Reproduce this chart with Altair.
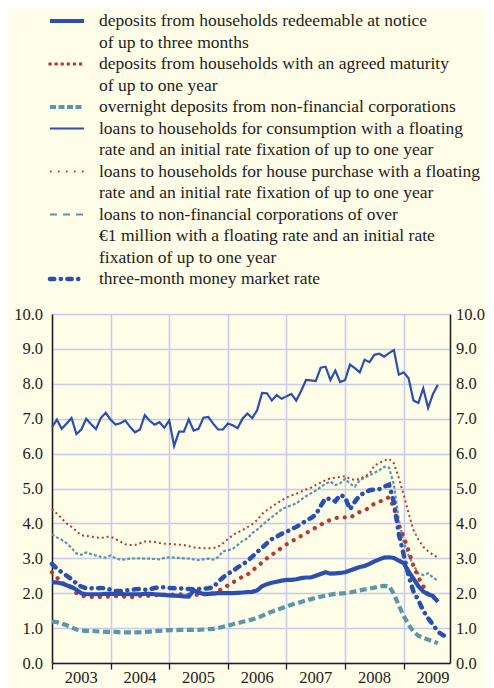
import altair as alt
import pandas as pd

# ---------------- data ----------------
months = [f"{2003 + i // 12}-{i % 12 + 1:02d}" for i in range(82)]

deposits_notice = [
    2.31, 2.31, 2.28, 2.23, 2.18, 2.10, 2.00, 1.97, 1.97, 1.97, 1.97, 1.98,
    1.98, 1.98, 1.98, 1.97, 1.97, 1.97, 1.97, 1.98, 1.98, 1.97, 1.96, 1.95,
    1.94, 1.93, 1.92, 1.91, 1.90, 2.08, 2.02, 1.98, 1.98, 1.99, 2.00, 2.00,
    2.00, 2.00, 2.01, 2.02, 2.03, 2.04, 2.08, 2.20, 2.26, 2.30, 2.33, 2.36,
    2.38, 2.38, 2.40, 2.43, 2.45, 2.45, 2.50, 2.55, 2.60, 2.56, 2.57, 2.58,
    2.60, 2.65, 2.70, 2.75, 2.78, 2.84, 2.91, 2.97, 3.02, 3.03, 3.01, 2.93,
    2.86, 2.62, 2.42, 2.20, 2.05, 1.97, 1.92, 1.75,
]
deposits_agreed = [
    2.60, 2.45, 2.30, 2.24, 2.15, 2.00, 1.93, 1.90, 1.89, 1.89, 1.89, 1.90,
    1.90, 1.92, 1.91, 1.90, 1.88, 1.90, 1.92, 1.92, 1.92, 1.94, 1.95, 1.95,
    1.95, 1.96, 1.97, 1.96, 1.95, 1.95, 1.95, 1.96, 1.98, 2.00, 2.06, 2.14,
    2.22, 2.30, 2.40, 2.47, 2.53, 2.65, 2.76, 2.88, 3.00, 3.10, 3.20, 3.30,
    3.40, 3.48, 3.56, 3.64, 3.72, 3.80, 3.88, 3.96, 4.04, 4.10, 4.15, 4.17,
    4.17, 4.16, 4.25, 4.33, 4.38, 4.45, 4.57, 4.62, 4.68, 4.75, 4.45, 3.95,
    3.62, 3.22, 2.78, 2.45, 2.20, 1.97, 1.90, 1.76,
]
overnight_nfc = [
    1.19, 1.17, 1.13, 1.08, 1.02, 0.96, 0.93, 0.92, 0.92, 0.91, 0.90, 0.89,
    0.89, 0.89, 0.88, 0.88, 0.88, 0.88, 0.88, 0.89, 0.90, 0.91, 0.92, 0.93,
    0.94, 0.94, 0.95, 0.95, 0.95, 0.95, 0.95, 0.96, 0.97, 0.98, 1.00, 1.04,
    1.07, 1.11, 1.14, 1.18, 1.21, 1.25, 1.29, 1.35, 1.42, 1.47, 1.52, 1.57,
    1.62, 1.67, 1.71, 1.75, 1.79, 1.83, 1.87, 1.90, 1.93, 1.96, 1.98, 1.99,
    2.00, 2.02, 2.05, 2.08, 2.11, 2.13, 2.16, 2.19, 2.21, 2.20, 1.98, 1.65,
    1.35, 1.10, 0.90, 0.78, 0.72, 0.67, 0.62, 0.57,
]
loans_consumption = [
    6.76, 6.97, 6.71, 6.86, 7.02, 6.56, 6.69, 7.00, 6.84, 6.70, 7.02, 7.17,
    6.97, 6.83, 6.87, 6.95, 6.76, 6.61, 6.69, 7.10, 6.94, 6.83, 6.90, 6.74,
    6.95, 6.22, 6.63, 6.63, 6.98, 6.66, 6.71, 7.03, 7.05, 6.86, 6.69, 6.69,
    6.86, 6.81, 6.73, 7.00, 7.15, 7.02, 7.24, 7.74, 7.73, 7.52, 7.68, 7.57,
    7.64, 7.71, 7.52, 7.79, 8.11, 8.10, 8.08, 8.46, 8.49, 8.11, 8.38, 8.05,
    8.11, 8.55, 8.45, 8.33, 8.69, 8.62, 8.83, 8.86, 8.78, 8.88, 8.97, 8.26,
    8.33, 8.16, 7.52, 7.45, 7.87, 7.31, 7.71, 7.97,
]
loans_house = [
    4.41, 4.28, 4.14, 4.00, 3.90, 3.78, 3.66, 3.64, 3.62, 3.60, 3.58, 3.61,
    3.62, 3.55, 3.48, 3.40, 3.38, 3.38, 3.43, 3.48, 3.48, 3.47, 3.44, 3.42,
    3.41, 3.40, 3.39, 3.38, 3.35, 3.31, 3.30, 3.29, 3.29, 3.29, 3.33, 3.43,
    3.55, 3.66, 3.74, 3.81, 3.89, 3.98, 4.10, 4.27, 4.38, 4.48, 4.57, 4.66,
    4.74, 4.80, 4.85, 4.91, 4.97, 5.02, 5.10, 5.17, 5.24, 5.29, 5.31, 5.33,
    5.35, 5.28, 5.24, 5.28, 5.35, 5.43, 5.66, 5.73, 5.80, 5.85, 5.72, 5.30,
    4.82, 4.30, 3.81, 3.54, 3.33, 3.20, 3.10, 3.02,
]
loans_nfc = [
    3.69, 3.60, 3.53, 3.43, 3.30, 3.14, 3.10, 3.17, 3.12, 3.08, 3.04, 3.02,
    3.08, 3.00, 2.96, 2.97, 2.99, 3.00, 3.00, 2.99, 2.99, 2.98, 2.97, 3.01,
    3.03, 3.02, 3.01, 3.00, 2.99, 2.97, 2.95, 2.97, 2.99, 2.96, 3.03, 3.20,
    3.23, 3.27, 3.38, 3.50, 3.57, 3.72, 3.82, 3.95, 4.07, 4.18, 4.29, 4.40,
    4.47, 4.52, 4.57, 4.68, 4.78, 4.86, 4.94, 5.04, 5.14, 5.20, 5.10, 5.15,
    5.28, 5.14, 5.05, 5.24, 5.31, 5.38, 5.45, 5.52, 5.62, 5.60, 5.10, 4.10,
    3.45, 3.09, 2.81, 2.57, 2.52, 2.57, 2.45, 2.36,
]
money_market = [
    2.84, 2.70, 2.60, 2.50, 2.40, 2.28, 2.19, 2.14, 2.14, 2.14, 2.15, 2.14,
    2.10, 2.06, 2.06, 2.08, 2.09, 2.11, 2.12, 2.10, 2.11, 2.15, 2.17, 2.17,
    2.15, 2.14, 2.14, 2.13, 2.12, 2.11, 2.12, 2.13, 2.14, 2.17, 2.32, 2.45,
    2.56, 2.63, 2.74, 2.82, 2.92, 3.05, 3.18, 3.30, 3.43, 3.55, 3.62, 3.70,
    3.76, 3.83, 3.90, 3.98, 4.08, 4.15, 4.25, 4.50, 4.72, 4.70, 4.63, 4.82,
    4.75, 4.40, 4.62, 4.80, 4.88, 4.95, 4.97, 4.98, 5.05, 5.11, 4.60, 3.70,
    3.10, 2.50, 2.05, 1.80, 1.50, 1.28, 1.10, 0.90, 0.80, 0.74,
]

legend_labels = [
    ["deposits from households redeemable at notice", "of up to three months"],
    ["deposits from households with an agreed maturity", "of up to one year"],
    ["overnight deposits from non-financial corporations"],
    ["loans to households for consumption with a floating",
     "rate and an initial rate fixation of up to one year"],
    ["loans to households for house purchase with a floating",
     "rate and an initial rate fixation of up to one year"],
    ["loans to non-financial corporations of over",
     "€1 million with a floating rate and an initial rate",
     "fixation of up to one year"],
    ["three-month money market rate"],
]
year_ticks = [2003, 2004, 2005, 2006, 2007, 2008, 2009]
year_labels = ["2003", "2004", "2005", "2006", "2007", "2008", "2009"]
y_ticks = [0, 1, 2, 3, 4, 5, 6, 7, 8, 9, 10]

# ---------------- styles ----------------
BLUE = "#2C4DB1"
RED = "#B83A2E"
TEAL = "#5E96A9"
GRID = "#C8CAEE"
BG = "#FEFDE8"
INK = "#1E1C1C"
FONT = "Liberation Serif, Times New Roman, DejaVu Serif, serif"
AX_FS = 16.5

series_keys = ["deposits_notice", "deposits_agreed", "overnight_nfc",
               "loans_consumption", "loans_house", "loans_nfc", "money_market"]
series_vals = [deposits_notice, deposits_agreed, overnight_nfc,
               loans_consumption, loans_house, loans_nfc, money_market]
plot_styles = {
    "deposits_notice": dict(color=BLUE, strokeWidth=4.2),
    "deposits_agreed": dict(color=RED, strokeWidth=4.2, strokeDash=[0.1, 8], strokeCap="round"),
    "overnight_nfc": dict(color=TEAL, strokeWidth=4.2, strokeDash=[7, 3.5]),
    "loans_consumption": dict(color=BLUE, strokeWidth=2.2),
    "loans_house": dict(color=RED, strokeWidth=2, strokeDash=[2, 3]),
    "loans_nfc": dict(color=TEAL, strokeWidth=2.2, strokeDash=[3, 2]),
    "money_market": dict(color=BLUE, strokeWidth=4.5, strokeDash=[5, 6.5, 0.1, 6.5], strokeCap="round"),
}
legend_styles = {
    "deposits_notice": dict(color=BLUE, strokeWidth=4),
    "deposits_agreed": dict(color=RED, strokeWidth=3.6, strokeDash=[0.1, 6], strokeCap="round"),
    "overnight_nfc": dict(color=TEAL, strokeWidth=4, strokeDash=[6, 2.5]),
    "loans_consumption": dict(color=BLUE, strokeWidth=2.2),
    "loans_house": dict(color=RED, strokeWidth=1.8, strokeDash=[1.6, 6.4]),
    "loans_nfc": dict(color=TEAL, strokeWidth=2, strokeDash=[7, 6]),
    "money_market": dict(color=BLUE, strokeWidth=4.5, strokeDash=[4.3, 6.5, 0.1, 6.5], strokeCap="round"),
}
draw_order = ["overnight_nfc", "loans_nfc", "loans_house", "loans_consumption",
              "deposits_agreed", "deposits_notice", "money_market"]

# ---------------- tables ----------------
rows = []
for key, vals in zip(series_keys, series_vals):
    for m, v in zip(months, vals):
        rows.append({"series": key, "month": m, "value": v})
df = pd.DataFrame(rows)
df["t"] = df["month"].str[:4].astype(int) + (df["month"].str[5:7].astype(int) - 1) / 12.0

years_df = pd.DataFrame({"year": year_ticks, "label": year_labels})
years_df["t"] = years_df["year"] + 0.5

text_rows, entry_rows = [], []
r = 0
for key, lines in zip(series_keys, legend_labels):
    entry_rows.append({"series": key, "row": r})
    for ln in lines:
        text_rows.append({"row": r, "text": ln})
        r += 1
legend_text_df = pd.DataFrame(text_rows)
legend_entry_df = pd.DataFrame(entry_rows)

# ---------------- plot ----------------
x_scale = alt.Scale(domain=[2003, 2009.79], nice=False, zero=False)
x_enc = alt.X(
    "t:Q",
    scale=x_scale,
    axis=alt.Axis(values=year_ticks, labels=False, grid=True, gridColor=GRID,
                  gridWidth=1.5, tickSize=6, tickColor=INK, tickWidth=1.3,
                  domainColor=INK, domainWidth=1.5, title=None),
)
y_scale = alt.Scale(domain=[0, 10], nice=False, zero=True)
left_axis = alt.Axis(values=y_ticks, format=".1f", ticks=False, grid=True,
                     gridColor=GRID, gridWidth=1.5, domainColor=INK, domainWidth=1.5,
                     labelFont=FONT, labelFontSize=AX_FS, labelColor=INK,
                     labelPadding=9.5, title=None)
right_axis = alt.Axis(values=y_ticks, format=".1f", ticks=False, grid=False,
                      orient="right", domainColor=INK, domainWidth=1.5,
                      labelFont=FONT, labelFontSize=AX_FS, labelColor=INK,
                      labelPadding=5.5, title=None)

layers = []
for key in draw_order:
    if key == "loans_consumption":
        ax = left_axis
    elif key == "money_market":
        ax = right_axis
    else:
        ax = None
    y_enc = alt.Y("value:Q", scale=y_scale, axis=ax)
    layers.append(
        alt.Chart(df)
        .transform_filter(alt.datum.series == key)
        .mark_line(**plot_styles[key])
        .encode(x=x_enc, y=y_enc)
    )

layers.append(
    alt.Chart(years_df)
    .mark_text(baseline="middle", align="center", font=FONT, fontSize=AX_FS, color=INK)
    .encode(x=alt.X("t:Q", scale=x_scale), y=alt.value(364), text="label:N")
)

# legend drawn above the plot area (rows mapped to pixel offsets above the plot)
y_leg = alt.Y("row:Q", scale=alt.Scale(domain=[0, 12], range=[-293, -35]), axis=None)
layers.append(
    alt.Chart(legend_text_df)
    .mark_text(align="left", baseline="middle", font=FONT, fontSize=17.5, color=INK)
    .encode(x=alt.value(47), y=y_leg, text="text:N")
)
for key in series_keys:
    layers.append(
        alt.Chart(legend_entry_df)
        .transform_filter(alt.datum.series == key)
        .mark_rule(**legend_styles[key])
        .encode(x=alt.value(-2), x2=alt.value(32), y=y_leg)
    )

chart = (
    alt.layer(*layers)
    .resolve_scale(y="independent")
    .resolve_axis(y="independent")
    .properties(width=398, height=349)
    .configure(background=BG, padding={"left": 5, "top": 4, "right": 0, "bottom": 0})
    .configure_view(stroke=None)
)

chart.save("out.html", embed_options={"renderer": "svg", "actions": False})
